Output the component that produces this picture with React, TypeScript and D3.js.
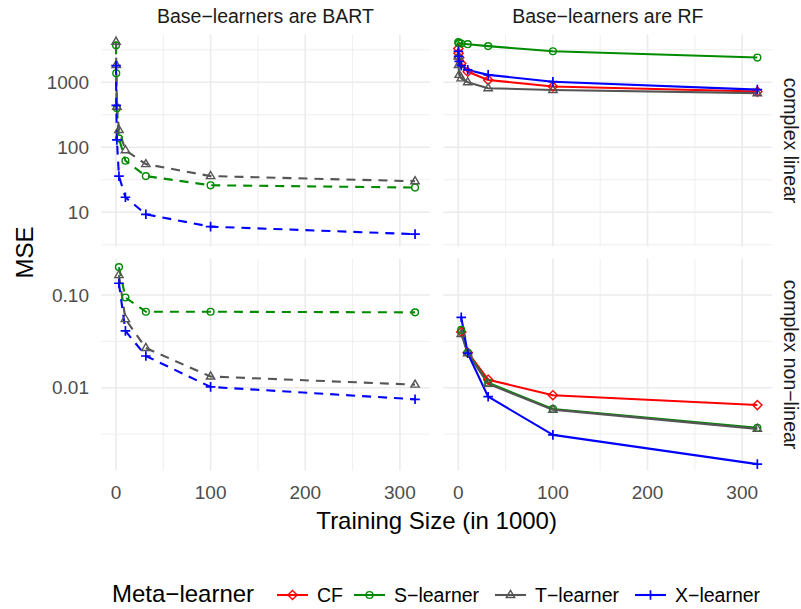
import React from 'react';
import * as d3 from 'd3';

// ---------- data ----------
const sizesFull = [0.1, 0.316, 1, 3.16, 10, 31.6, 100, 316];
const sizesLarge = [3.16, 10, 31.6, 100, 316];

const learnerKeys = ['CF', 'S', 'T', 'X'];
const learnerLabels = ['CF', 'S\u2212learner', 'T\u2212learner', 'X\u2212learner'];
const learnerColors = ['#FF0000', '#008B00', '#555555', '#0000FF'];

const colTitles = ['Base\u2212learners are BART', 'Base\u2212learners are RF'];
const rowTitles = ['complex linear', 'complex non\u2212linear'];

// complex linear, BART
const bartLinS = [3700, 1375, 400, 137, 62, 36, 26, 24];
const bartLinT = [4200, 1850, 420, 185, 90, 55, 36, 30];
const bartLinX = [1800, 440, 130, 36, 17, 9.3, 6.0, 4.6];
// complex linear, RF
const rfLinCF = [3300, 2800, 2400, 1950, 1450, 1085, 860, 720];
const rfLinS = [4100, 4100, 4000, 3950, 3850, 3600, 3000, 2400];
const rfLinT = [2500, 1850, 1300, 1150, 1000, 810, 760, 680];
const rfLinX = [3000, 2500, 2100, 1800, 1550, 1300, 1020, 770];
// complex non-linear, BART
const bartNlS = [0.2, 0.094, 0.066, 0.066, 0.065];
const bartNlT = [0.164, 0.055, 0.0268, 0.0132, 0.0108];
const bartNlX = [0.134, 0.041, 0.022, 0.0102, 0.0075];
// complex non-linear, RF
const rfNlCF = [0.04, 0.024, 0.0122, 0.0083, 0.0065];
const rfNlS = [0.042, 0.024, 0.0113, 0.0059, 0.0037];
const rfNlT = [0.038, 0.0235, 0.011, 0.0058, 0.0036];
const rfNlX = [0.0575, 0.0235, 0.008, 0.0031, 0.0015];

const xTicks = [0, 100, 200, 300];
const xMinor = [50, 150, 250];
const yTicksRow0 = [10, 100, 1000];
const yTickLabelsRow0 = ['10', '100', '1000'];
const yMinorRow0 = [Math.pow(10, 0.5), Math.pow(10, 1.5), Math.pow(10, 2.5), Math.pow(10, 3.5)];
const yTicksRow1 = [0.01, 0.1];
const yTickLabelsRow1 = ['0.01', '0.10'];
const yMinorRow1 = [Math.pow(10, -2.5), Math.pow(10, -1.5)];
const yLogDomainRow0 = [0.473, 3.735];
const yLogDomainRow1 = [-2.893, -0.606];
const xDomain = [-15.8, 331.8];

type Series = { learner: number; xs: number[]; ys: number[] };
const panels: { row: number; col: number; dashed: boolean; series: Series[] }[] = [
  { row: 0, col: 0, dashed: true, series: [
    { learner: 1, xs: sizesFull, ys: bartLinS },
    { learner: 2, xs: sizesFull, ys: bartLinT },
    { learner: 3, xs: sizesFull, ys: bartLinX },
  ] },
  { row: 0, col: 1, dashed: false, series: [
    { learner: 0, xs: sizesFull, ys: rfLinCF },
    { learner: 1, xs: sizesFull, ys: rfLinS },
    { learner: 2, xs: sizesFull, ys: rfLinT },
    { learner: 3, xs: sizesFull, ys: rfLinX },
  ] },
  { row: 1, col: 0, dashed: true, series: [
    { learner: 1, xs: sizesLarge, ys: bartNlS },
    { learner: 2, xs: sizesLarge, ys: bartNlT },
    { learner: 3, xs: sizesLarge, ys: bartNlX },
  ] },
  { row: 1, col: 1, dashed: false, series: [
    { learner: 0, xs: sizesLarge, ys: rfNlCF },
    { learner: 1, xs: sizesLarge, ys: rfNlS },
    { learner: 2, xs: sizesLarge, ys: rfNlT },
    { learner: 3, xs: sizesLarge, ys: rfNlX },
  ] },
];

// ---------- layout ----------
const W = 801, H = 609;
const colX = [[101, 430], [443.3, 772.3]];
const rowY = [[34.5, 246.5], [258.5, 470.5]];
const FONT = "'Liberation Sans', Arial, Helvetica, sans-serif";
const GRID = '#EBEBEB';

function Marker({ shape, color, x, y }: { shape: number; color: string; x: number; y: number }) {
  const sw = 1.4;
  if (shape === 0) {
    const r = 4.6;
    return <path d={`M${x},${y - r}L${x + r},${y}L${x},${y + r}L${x - r},${y}Z`} fill="none" stroke={color} strokeWidth={sw} />;
  }
  if (shape === 1) return <circle cx={x} cy={y} r={3.4} fill="none" stroke={color} strokeWidth={sw} />;
  if (shape === 2) {
    const h = 4.6;
    return <path d={`M${x},${y - h}L${x + 4.2},${y + h * 0.55}L${x - 4.2},${y + h * 0.55}Z`} fill="none" stroke={color} strokeWidth={sw} />;
  }
  const r = 4.8;
  return <path d={`M${x - r},${y}H${x + r}M${x},${y - r}V${y + r}`} fill="none" stroke={color} strokeWidth={sw + 0.3} />;
}

export default function App() {
  const yScales = [
    d3.scaleLog().domain(yLogDomainRow0.map((v) => Math.pow(10, v))).range([rowY[0][1], rowY[0][0]]),
    d3.scaleLog().domain(yLogDomainRow1.map((v) => Math.pow(10, v))).range([rowY[1][1], rowY[1][0]]),
  ];
  const xScales = colX.map((r) => d3.scaleLinear().domain(xDomain).range(r));
  const yTicks = [yTicksRow0, yTicksRow1];
  const yLabels = [yTickLabelsRow0, yTickLabelsRow1];
  const yMinor = [yMinorRow0, yMinorRow1];

  const legendKeysX = [277, 354, 495, 635];

  return (
    <svg width={W} height={H} style={{ position: 'absolute', left: 0, top: 0, background: '#fff' }} fontFamily={FONT}>
      <rect width={W} height={H} fill="#fff" />
      {/* grids */}
      {[0, 1].map((row) => [0, 1].map((col) => {
        const xs = xScales[col], ys = yScales[row];
        const [x0, x1] = colX[col], [y0, y1] = rowY[row];
        return (
          <g key={`g${row}${col}`}>
            {yMinor[row].map((v) => <line key={`ym${v}`} x1={x0} x2={x1} y1={ys(v)} y2={ys(v)} stroke={GRID} strokeWidth={0.8} />)}
            {xMinor.map((v) => <line key={`xm${v}`} x1={xs(v)} x2={xs(v)} y1={y0} y2={y1} stroke={GRID} strokeWidth={0.8} />)}
            {yTicks[row].map((v) => <line key={`yM${v}`} x1={x0} x2={x1} y1={ys(v)} y2={ys(v)} stroke={GRID} strokeWidth={1.6} />)}
            {xTicks.map((v) => <line key={`xM${v}`} x1={xs(v)} x2={xs(v)} y1={y0} y2={y1} stroke={GRID} strokeWidth={1.6} />)}
          </g>
        );
      }))}
      {/* lines */}
      {panels.map((p, pi) => {
        const xs = xScales[p.col], ys = yScales[p.row];
        const gen = d3.line<[number, number]>().x((d) => xs(d[0])).y((d) => ys(d[1]));
        return (
          <g key={`l${pi}`}>
            {p.series.map((s) => {
              const pts: [number, number][] = s.xs.map((x, i) => [x, s.ys[i]]);
              return <path key={s.learner} d={gen(pts) || ''} fill="none" stroke={learnerColors[s.learner]} strokeWidth={2.1}
                strokeDasharray={p.dashed ? '9,7' : undefined} strokeLinejoin="round" />;
            })}
          </g>
        );
      })}
      {/* points */}
      {panels.map((p, pi) => {
        const xs = xScales[p.col], ys = yScales[p.row];
        return (
          <g key={`p${pi}`}>
            {p.series.map((s) => s.xs.map((x, i) => (
              <Marker key={`${s.learner}-${i}`} shape={s.learner} color={learnerColors[s.learner]} x={xs(x)} y={ys(s.ys[i])} />
            )))}
          </g>
        );
      })}
      {/* y tick labels */}
      {[0, 1].map((row) => yTicks[row].map((v, i) => (
        <text key={`yt${row}${i}`} x={89} y={yScales[row](v)} dy="0.35em" textAnchor="end" fontSize={19} fill="#4D4D4D">{yLabels[row][i]}</text>
      )))}
      {/* x tick labels */}
      {[0, 1].map((col) => xTicks.map((v) => (
        <text key={`xt${col}${v}`} x={xScales[col](v)} y={499} textAnchor="middle" fontSize={19} fill="#4D4D4D">{v}</text>
      )))}
      {/* strips */}
      {colTitles.map((t, c) => (
        <text key={`ct${c}`} x={(colX[c][0] + colX[c][1]) / 2} y={23} textAnchor="middle" fontSize={19.5} fill="#1A1A1A">{t}</text>
      ))}
      {rowTitles.map((t, r) => {
        const cy = (rowY[r][0] + rowY[r][1]) / 2;
        return <text key={`rt${r}`} transform={`translate(784,${cy}) rotate(90)`} textAnchor="middle" fontSize={19.5} fill="#1A1A1A">{t}</text>;
      })}
      {/* axis titles */}
      <text x={(colX[0][0] + colX[1][1]) / 2} y={529} textAnchor="middle" fontSize={24} fill="#000">Training Size (in 1000)</text>
      <text transform={`translate(33,${(rowY[0][0] + rowY[1][1]) / 2}) rotate(-90)`} textAnchor="middle" fontSize={24} fill="#000">MSE</text>
      {/* legend */}
      <text x={112} y={602} fontSize={24} fill="#000">Meta{'\u2212'}learner</text>
      {learnerKeys.map((k, i) => (
        <g key={`lg${k}`}>
          <line x1={legendKeysX[i]} x2={legendKeysX[i] + 31} y1={595} y2={595} stroke={learnerColors[i]} strokeWidth={2.1} />
          <Marker shape={i} color={learnerColors[i]} x={legendKeysX[i] + 15.5} y={595} />
          <text x={legendKeysX[i] + 40} y={601.5} fontSize={19.5} fill="#000">{learnerLabels[i]}</text>
        </g>
      ))}
    </svg>
  );
}
